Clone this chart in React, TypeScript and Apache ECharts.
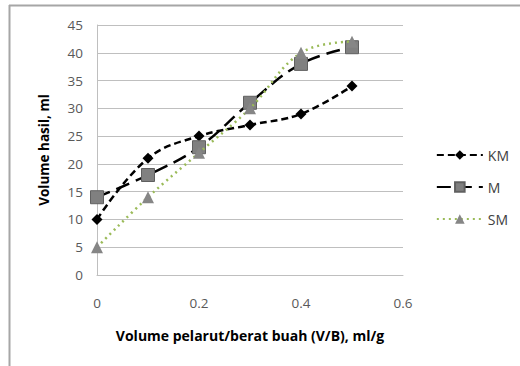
import React, { useEffect, useRef } from "react";
import * as echarts from "echarts";

const xValues = [0, 0.1, 0.2, 0.3, 0.4, 0.5];
const kmValues = [10, 21, 25, 27, 29, 34];
const mValues = [14, 18, 23, 31, 38, 41];
const smValues = [5, 14, 22, 30, 40, 42];
const seriesNames = ["KM", "M", "SM"];
const xTitle = "Volume pelarut/berat buah (V/B), ml/g";
const yTitle = "Volume hasil, ml";

const FONT = "'Open Sans', 'Noto Sans', sans-serif";

function pairs(vals: number[]) {
  return xValues.map((x, i) => [x, vals[i]]);
}

export default function App() {
  const ref = useRef<HTMLDivElement>(null);
  useEffect(() => {
    if (!ref.current) return;
    const chart = echarts.init(ref.current, null, { renderer: "svg" });
    chart.setOption({
      animation: false,
      backgroundColor: "#ffffff",
      textStyle: { fontFamily: FONT },
      grid: { left: 97, right: 117, top: 25, bottom: 91, containLabel: false },
      graphic: [
        { type: "line", shape: { x1: 9, y1: 5.5, x2: 520, y2: 5.5 }, style: { stroke: "#a6a6a6", lineWidth: 2 } },
        { type: "line", shape: { x1: 9.5, y1: 5, x2: 9.5, y2: 366 }, style: { stroke: "#a6a6a6", lineWidth: 2 } },
      ],
      legend: {
        orient: "vertical",
        right: 6,
        top: 143,
        itemWidth: 46,
        itemHeight: 12,
        itemGap: 18,
        data: seriesNames,
        textStyle: { fontFamily: FONT, fontSize: 14, color: "#404040" },
      },
      xAxis: {
        type: "value",
        min: 0,
        max: 0.6,
        interval: 0.2,
        name: xTitle,
        nameLocation: "middle",
        nameGap: 53,
        nameTextStyle: { fontFamily: FONT, fontSize: 14, fontWeight: "bold", color: "#000" },
        axisLine: { show: true, lineStyle: { color: "#bfbfbf", width: 1 } },
        axisTick: { show: false },
        splitLine: { show: false },
        axisLabel: {
          margin: 21,
          fontSize: 13.5,
          color: "#595959",
          formatter: (v: number) => String(Math.round(v * 10) / 10),
        },
      },
      yAxis: {
        type: "value",
        min: 0,
        max: 45,
        interval: 5,
        name: yTitle,
        nameLocation: "middle",
        nameGap: 46,
        nameTextStyle: { fontFamily: FONT, fontSize: 13.5, fontWeight: "bold", color: "#000" },
        axisLine: { show: true, lineStyle: { color: "#bfbfbf", width: 1 } },
        axisTick: { show: false },
        splitLine: { show: true, lineStyle: { color: "#bfbfbf", width: 1 } },
        axisLabel: { margin: 14, fontSize: 13.5, color: "#595959" },
      },
      series: [
        {
          name: seriesNames[0],
          type: "line",
          data: pairs(kmValues),
          smooth: 0.4,
          symbol: "diamond",
          symbolSize: 11,
          itemStyle: { color: "#000000" },
          lineStyle: { color: "#000000", width: 2.5, type: [7, 4] },
          z: 3,
        },
        {
          name: seriesNames[1],
          type: "line",
          data: pairs(mValues),
          smooth: 0.4,
          symbol: "rect",
          symbolSize: 13,
          itemStyle: { color: "#808080", borderColor: "#606060", borderWidth: 1 },
          lineStyle: { color: "#000000", width: 2.5, type: [14, 7] },
          z: 4,
        },
        {
          name: seriesNames[2],
          type: "line",
          data: pairs(smValues),
          smooth: 0.4,
          symbol: "triangle",
          symbolSize: 12,
          itemStyle: { color: "#868686" },
          lineStyle: { color: "#9bbb59", width: 2.5, type: [2, 4] },
          z: 5,
        },
      ],
    });
    return () => chart.dispose();
  }, []);
  return (
    <div
      ref={ref}
      style={{ position: "fixed", left: 0, top: 0, width: 520, height: 366 }}
    />
  );
}
